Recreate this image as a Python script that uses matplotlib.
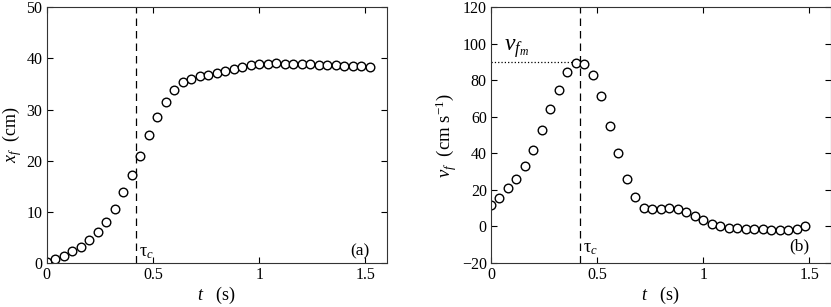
import numpy as np
import matplotlib
matplotlib.use('Agg')
import matplotlib.pyplot as plt

plt.rcParams['font.family'] = 'Liberation Serif'
plt.rcParams['mathtext.fontset'] = 'custom'
plt.rcParams['mathtext.rm'] = 'Liberation Serif'
plt.rcParams['mathtext.it'] = 'Liberation Serif:italic'
plt.rcParams['font.size'] = 11

# front position x_f (cm), dt = 0.04 s
t_a = np.arange(39) * 0.04
xf = [0.2, 0.8, 1.4, 2.3, 3.2, 4.4, 6.1, 8.1, 10.6, 13.8, 17.3, 21.0, 25.0,
      28.5, 31.4, 33.9, 35.4, 35.9, 36.5, 36.7, 37.1, 37.5, 37.9, 38.4, 38.7,
      38.9, 39.0, 39.1, 39.0, 38.9, 38.9, 38.9, 38.8, 38.7, 38.7, 38.6, 38.5,
      38.5, 38.4]

# front velocity v_f (cm/s)
t_b = np.arange(38) * 0.04
vf = [11.5, 15.7, 20.8, 26.1, 33.2, 41.9, 52.9, 64.3, 74.9, 84.8, 89.5, 89.1,
      83.1, 71.6, 54.9, 40.1, 25.9, 16.0, 10.2, 9.7, 9.3, 10.0, 9.3, 8.0, 5.8,
      3.5, 1.3, 0.0, -0.7, -1.1, -1.3, -1.5, -1.6, -1.8, -2.0, -1.8, -1.5, 0.0]

tau_c = 0.42
vfm = 90

fig = plt.figure(figsize=(8.31, 3.07), dpi=100)
ax1 = fig.add_axes([46.7/831, 1-263/307, 340/831, 255.7/307])
ax2 = fig.add_axes([491/831, 1-263/307, 339.7/831, 255.7/307])

mk = dict(ls='none', marker='o', ms=6.2, mfc='white', mec='black', mew=1.0)

ax1.plot(t_a, xf, **mk)
ax1.axvline(tau_c, color='black', ls=(0, (6, 4)), lw=0.9, zorder=0)
ax1.set_xlim(0, 1.6)
ax1.set_ylim(0, 50)
ax1.set_xticks([0, 0.5, 1, 1.5])
ax1.set_xticklabels(['0', '0.5', '1', '1.5'])
ax1.set_yticks([0, 10, 20, 30, 40, 50])
ax1.set_xlabel('$t$   (s)', fontsize=13, labelpad=1)
ax1.set_ylabel('$x_f$  (cm)', fontsize=13, labelpad=2)
ax1.text(tau_c + 0.015, 1.4, r'$\mathrm{\tau}_c$', fontsize=13)
ax1.text(1.52, 1.5, '(a)', fontsize=12.5, ha='right')

ax2.plot(t_b, vf, **mk)
ax2.axvline(tau_c, color='black', ls=(0, (6, 4)), lw=0.9, zorder=0)
ax2.plot([0, tau_c], [vfm, vfm], color='black', ls=':', lw=0.9, zorder=0)
ax2.set_xlim(0, 1.6)
ax2.set_ylim(-20, 120)
ax2.set_xticks([0, 0.5, 1, 1.5])
ax2.set_xticklabels(['0', '0.5', '1', '1.5'])
ax2.set_yticks([-20, 0, 20, 40, 60, 80, 100, 120])
ax2.set_xlabel('$t$   (s)', fontsize=13, labelpad=1)
ax2.set_ylabel('$v_f$  (cm s$^{\\mathrm{-1}}$)', fontsize=13.5, labelpad=2)
ax2.text(tau_c + 0.015, -14, r'$\mathrm{\tau}_c$', fontsize=13)
ax2.text(0.06, 96, '$v_{f_m}$', fontsize=17)
ax2.text(1.5, -13, '(b)', fontsize=12.5, ha='right')

for ax in (ax1, ax2):
    ax.tick_params(direction='in', top=True, right=True, length=4, width=0.8,
                   labelsize=11.5, pad=3)
    for s in ax.spines.values():
        s.set_color('#333333')
        s.set_linewidth(0.8)

fig.savefig('out.png', dpi=100)
